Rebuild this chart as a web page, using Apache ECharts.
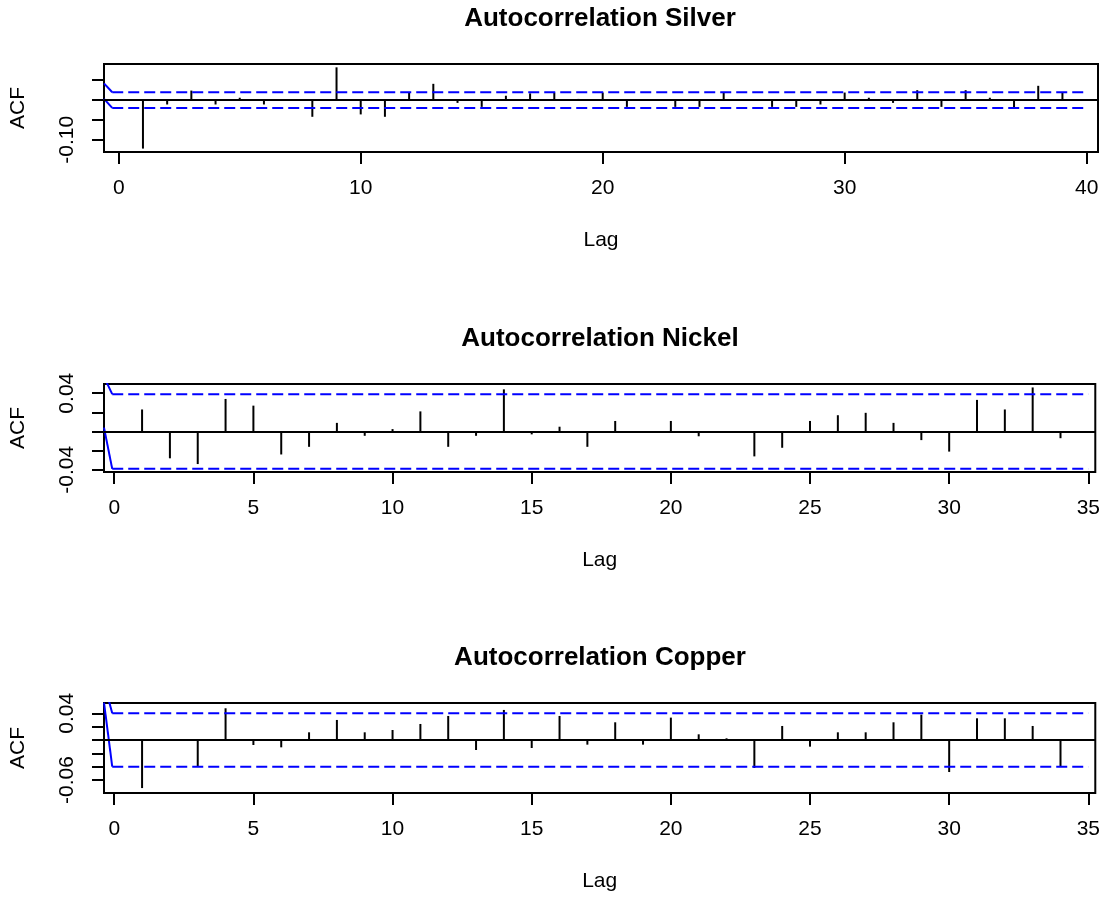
<!DOCTYPE html>
<html>
<head>
<meta charset="utf-8">
<title>Autocorrelation</title>
<script src="https://cdn.jsdelivr.net/npm/echarts@6/dist/echarts.min.js"></script>
<style>
  html, body { margin: 0; padding: 0; background: #fff; }
  #chart { width: 1103px; height: 900px; }
</style>
</head>
<body>
<div id="chart"></div>
<script>
// ACF values (lag 0 not drawn)
const silverLags = [1, 2, 3, 4, 5, 6, 7, 8, 9, 10, 11, 12, 13, 14, 15, 16, 17, 18, 19, 20,
  21, 22, 23, 24, 25, 26, 27, 28, 29, 30, 31, 32, 33, 34, 35, 36, 37, 38, 39, 40];
const silverAcf = [-0.122, -0.011, 0.024, -0.011, 0.006, -0.011, 0.002, -0.042, 0.0825, -0.036,
  -0.042, 0.019, 0.041, -0.007, -0.017, 0.011, 0.017, 0.019, 0.003, 0.019,
  -0.017, 0.002, -0.017, -0.017, 0.019, 0.001, -0.017, -0.017, -0.011, 0.019,
  0.006, -0.007, 0.025, -0.017, 0.025, 0.006, -0.021, 0.036, 0.019, 0.001];

const nickelLags = [1, 2, 3, 4, 5, 6, 7, 8, 9, 10, 11, 12, 13, 14, 15, 16, 17, 18,
  19, 20, 21, 22, 23, 24, 25, 26, 27, 28, 29, 30, 31, 32, 33, 34, 35];
const nickelAcf = [0.023, -0.028, -0.034, 0.034, 0.027, -0.024, -0.016, 0.009, -0.0045, 0.0025,
  0.021, -0.016, -0.0045, 0.044, -0.003, 0.005, -0.016, 0.011, 0.0005, 0.011,
  -0.005, 0.0005, -0.026, -0.017, 0.011, 0.017, 0.0195, 0.009, -0.009, -0.021,
  0.033, 0.023, 0.046, -0.007, 0.0005];

const copperLags = [1, 2, 3, 4, 5, 6, 7, 8, 9, 10, 11, 12, 13, 14, 15, 16, 17, 18,
  19, 20, 21, 22, 23, 24, 25, 26, 27, 28, 29, 30, 31, 32, 33, 34, 35];
const copperAcf = [-0.072, 0.0005, -0.040, 0.0475, -0.0075, -0.011, 0.0115, 0.030, 0.0115, 0.015,
  0.024, 0.036, -0.015, 0.045, -0.012, 0.036, -0.007, 0.0265, -0.007, 0.0335,
  0.0085, 0.0025, -0.042, 0.021, -0.010, 0.0115, 0.0115, 0.0265, 0.038, -0.048,
  0.0325, 0.0325, 0.021, -0.040, 0.0005];

// confidence bounds (upper, lower) and the short solid lead-in near lag 0
const silverCi = [0.0197, -0.0197];
const silverLeadUpper = [[-0.61, 0.042], [-0.27, 0.0197]];
const silverLeadLower = [[-0.61, 0.003], [-0.27, -0.0197]];
const nickelCi = [0.039, -0.039];
const nickelLeadUpper = [[-0.368, 0.057], [-0.072, 0.039]];
const nickelLeadLower = [[-0.368, 0.004], [-0.072, -0.039]];
const copperCi = [0.040, -0.040];
const copperLeadUpper = [[-0.368, 0.086], [-0.072, 0.040]];
const copperLeadLower = [[-0.368, 0.056], [-0.072, -0.040]];

// axis ticks and labels
const silverXTicks = [0, 10, 20, 30, 40];
const silverYTicks = [-0.10, -0.05, 0, 0.05];
const silverYLabels = [-0.10];
const nickelXTicks = [0, 5, 10, 15, 20, 25, 30, 35];
const nickelYTicks = [-0.04, -0.02, 0, 0.02, 0.04];
const nickelYLabels = [-0.04, 0.04];
const copperXTicks = [0, 5, 10, 15, 20, 25, 30, 35];
const copperYTicks = [-0.06, -0.04, -0.02, 0, 0.02, 0.04];
const copperYLabels = [-0.06, 0.04];

const FONT = '"Liberation Sans", Arial, Helvetica, sans-serif';
const BLUE = '#0000ff';

const panels = [
  { title: 'Autocorrelation Silver', lags: silverLags, acf: silverAcf, ci: silverCi,
    leadUp: silverLeadUpper, leadLo: silverLeadLower, lastLag: 40,
    xMin: -0.61, xMax: 40.47, yMin: -0.1306, yMax: 0.0909,
    xTicks: silverXTicks, yTicks: silverYTicks, yLabels: silverYLabels, top: 64, height: 88 },
  { title: 'Autocorrelation Nickel', lags: nickelLags, acf: nickelAcf, ci: nickelCi,
    leadUp: nickelLeadUpper, leadLo: nickelLeadLower, lastLag: 35,
    xMin: -0.368, xMax: 35.25, yMin: -0.0423, yMax: 0.0496,
    xTicks: nickelXTicks, yTicks: nickelYTicks, yLabels: nickelYLabels, top: 384, height: 88 },
  { title: 'Autocorrelation Copper', lags: copperLags, acf: copperAcf, ci: copperCi,
    leadUp: copperLeadUpper, leadLo: copperLeadLower, lastLag: 35,
    xMin: -0.368, xMax: 35.25, yMin: -0.0794, yMax: 0.0554,
    xTicks: copperXTicks, yTicks: copperYTicks, yLabels: copperYLabels, top: 703, height: 90 }
];

const txt = { color: '#000', fontSize: 21, fontFamily: FONT };
const tickLine = { color: '#000', width: 2 };

const grids = [], xAxes = [], yAxes = [], titles = [], series = [];

panels.forEach((p, i) => {
  grids.push({
    left: 102, top: p.top, width: 996, height: p.height,
    show: true, borderColor: '#000', borderWidth: 2, backgroundColor: 'transparent'
  });
  titles.push({
    text: p.title, left: 600, top: p.top - 58, textAlign: 'center', padding: 0,
    textStyle: { color: '#000', fontSize: 26, fontWeight: 'bold', fontFamily: FONT }
  });
  xAxes.push({
    gridIndex: i, type: 'value', min: p.xMin, max: p.xMax,
    axisLine: { show: false, onZero: false },
    axisTick: { show: true, length: 12, lineStyle: tickLine, customValues: p.xTicks },
    axisLabel: { customValues: p.xTicks, margin: 26, ...txt },
    splitLine: { show: false },
    name: 'Lag', nameLocation: 'middle', nameGap: 78, nameTextStyle: txt
  });
  yAxes.push({
    gridIndex: i, type: 'value', min: p.yMin, max: p.yMax,
    axisLine: { show: false, onZero: false },
    axisTick: { show: true, length: 12, lineStyle: tickLine, customValues: p.yTicks },
    axisLabel: { customValues: p.yLabels, rotate: 90, margin: 26, ...txt,
      formatter: v => v.toFixed(2) },
    splitLine: { show: false },
    name: 'ACF', nameLocation: 'middle', nameGap: 75, nameTextStyle: txt
  });

  series.push({
    type: 'bar', xAxisIndex: i, yAxisIndex: i, barWidth: 2,
    data: p.lags.map((l, j) => [l, p.acf[j]]),
    itemStyle: { color: '#000' },
    markLine: {
      silent: true, symbol: 'none', label: { show: false },
      lineStyle: { color: '#000', width: 2, type: 'solid' },
      data: [{ yAxis: 0 }]
    }
  });

  const lead = data => ({
    type: 'line', xAxisIndex: i, yAxisIndex: i, data, symbol: 'none', clip: true,
    lineStyle: { color: BLUE, width: 2, type: 'solid' }
  });
  const bound = (from, v) => ({
    type: 'line', xAxisIndex: i, yAxisIndex: i, symbol: 'none', clip: true,
    data: [[from, v], [p.lastLag, v]],
    lineStyle: { color: BLUE, width: 2, type: [11, 5] }
  });
  series.push(lead(p.leadUp), lead(p.leadLo));
  series.push(bound(p.leadUp[1][0], p.ci[0]), bound(p.leadLo[1][0], p.ci[1]));
});

const chart = echarts.init(document.getElementById('chart'));
chart.setOption({
  animation: false,
  backgroundColor: '#fff',
  title: titles,
  grid: grids,
  xAxis: xAxes,
  yAxis: yAxes,
  series: series
});
</script>
</body>
</html>
